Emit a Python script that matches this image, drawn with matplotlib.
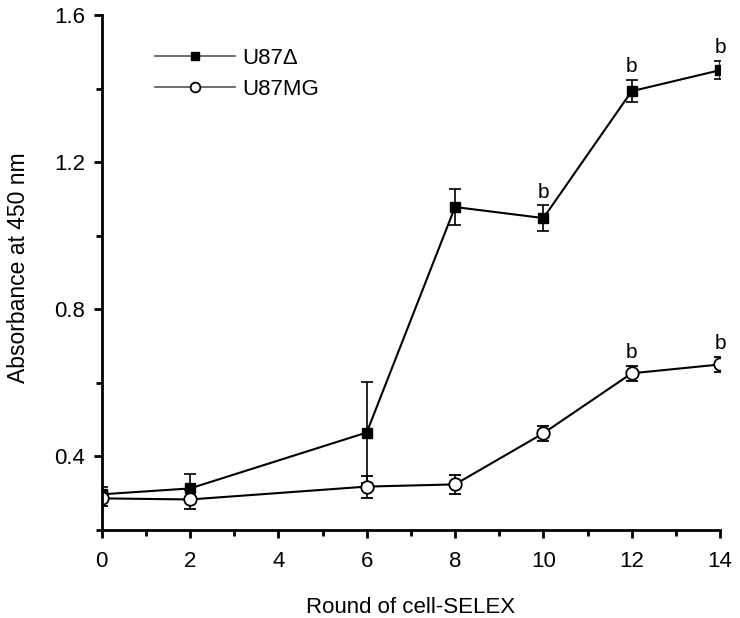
import matplotlib
matplotlib.use("Agg")
import matplotlib.pyplot as plt
from matplotlib.ticker import MultipleLocator
from matplotlib.lines import Line2D

rounds = [0, 2, 6, 8, 10, 12, 14]
u87d = [0.297, 0.313, 0.465, 1.078, 1.048, 1.393, 1.450]
u87d_err = [0.020, 0.038, 0.136, 0.050, 0.035, 0.030, 0.025]
u87mg = [0.286, 0.283, 0.318, 0.324, 0.463, 0.626, 0.650]
u87mg_err = [0.020, 0.025, 0.030, 0.025, 0.020, 0.020, 0.020]
sig_d = [10, 12, 14]
sig_mg = [12, 14]

plt.rcParams['font.family'] = ['Liberation Sans', 'DejaVu Sans']

fig = plt.figure(figsize=(7.4, 6.18), dpi=100)
ax = fig.add_axes([0.1375, 0.1424, 0.8355, 0.8333])

ax.errorbar(rounds, u87d, yerr=u87d_err, color='black', marker='s', markersize=7,
            linewidth=1.5, elinewidth=1.2, capsize=4, capthick=1.2)
ax.errorbar(rounds, u87mg, yerr=u87mg_err, color='black', marker='o', markersize=9,
            markerfacecolor='white', markeredgewidth=1.3, linewidth=1.5,
            elinewidth=1.2, capsize=4, capthick=1.2)

for r in sig_d:
    i = rounds.index(r)
    ax.text(r, u87d[i] + u87d_err[i] + 0.01, 'b', ha='center', va='bottom', fontsize=15)
for r in sig_mg:
    i = rounds.index(r)
    ax.text(r, u87mg[i] + u87mg_err[i] + 0.01, 'b', ha='center', va='bottom', fontsize=15)

ax.set_xlim(0, 14)
ax.set_ylim(0.2, 1.6)
ax.xaxis.set_major_locator(MultipleLocator(2))
ax.xaxis.set_minor_locator(MultipleLocator(1))
ax.yaxis.set_minor_locator(MultipleLocator(0.2))
ax.set_yticks([0.4, 0.8, 1.2, 1.6])
ax.set_yticklabels(['0.4', '0.8', '1.2', '1.6'])

for s in ['top', 'right']:
    ax.spines[s].set_visible(False)
for s in ['left', 'bottom']:
    ax.spines[s].set_linewidth(2)
    ax.spines[s].set_clip_on(False)

ax.tick_params(which='major', direction='out', length=6, width=2, labelsize=16)
ax.tick_params(axis='x', which='major', pad=9)
ax.tick_params(axis='y', which='major', pad=6)
ax.tick_params(which='minor', direction='out', length=4, width=2)

ax.set_xlabel('Round of cell-SELEX', fontsize=16, va='center')
ax.set_ylabel('Absorbance at 450 nm', fontsize=16.5, va='center')
ax.xaxis.set_label_coords(0.5, -0.15)
ax.yaxis.set_label_coords(-0.135, 0.51)

handles = [
    Line2D([], [], color='#555555', linewidth=1.2, marker='s', markersize=6,
           markerfacecolor='black', markeredgecolor='black'),
    Line2D([], [], color='#555555', linewidth=1.2, marker='o', markersize=7,
           markerfacecolor='white', markeredgecolor='black', markeredgewidth=1.3),
]
ax.legend(handles, ['U87Δ', 'U87MG'], loc='upper left', bbox_to_anchor=(0.054, 0.975),
          frameon=False, fontsize=16, handlelength=3.6, handletextpad=0.3,
          labelspacing=0.45)

fig.savefig('out.png', dpi=100)
